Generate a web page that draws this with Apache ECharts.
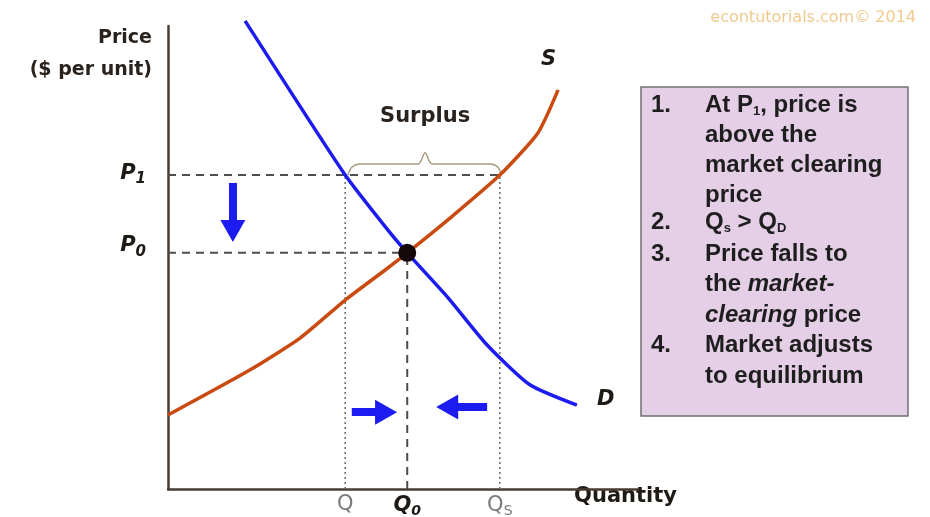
<!DOCTYPE html>
<html>
<head>
<meta charset="utf-8">
<script src="https://cdn.jsdelivr.net/npm/echarts@6/dist/echarts.min.js"></script>
<style>
  html, body { margin: 0; padding: 0; background: #fff; }
  #chart { width: 930px; height: 517px; }
</style>
</head>
<body>
<div id="chart"></div>
<script>
// axes run 0..100 in both directions
var demandQ = [16.4, 37.7, 46.8, 50.9, 59.6, 67.9, 77.0, 87.0];
var demandP = [101.1, 67.8, 55.9, 51.0, 41.3, 31.1, 22.5, 18.1];
var supplyQ = [0, 17.4, 28.1, 37.7, 46.2, 50.9, 60.0, 70.6, 78.7, 83.0];
var supplyP = [16.0, 25.7, 32.6, 40.8, 47.3, 51.0, 58.5, 67.8, 76.9, 86.2];

var priceNames = ['P1', 'P0'];
var priceValues = [67.8, 51.0];
var qtyNames = ['Q', 'Q0', 'Qs'];
var qtyValues = [37.7, 50.9, 70.6];

var braceQ = [38.3, 39.1, 40.9, 53.2, 54.7, 56.2, 68.5, 70.2, 70.9];
var braceP = [67.8, 69.5, 70.2, 70.2, 72.6, 70.2, 70.2, 69.5, 67.8];

var arrowFrom = [[13.8, 66.1], [39.1, 16.6], [67.9, 17.7]];
var arrowTo = [[13.8, 55.7], [46.4, 16.6], [59.4, 17.7]];

var boxNums = ['1.', '', '', '', '2.', '3.', '', '', '4.', ''];
var boxText = [
  'At P{sub|1}, price is',
  'above the',
  'market clearing',
  'price',
  'Q{sub|s} > Q{sub|D}',
  'Price falls to',
  'the {i|market-}',
  '{i|clearing} price',
  'Market adjusts',
  'to equilibrium'
];
var boxY = [105, 135, 165, 195, 222, 254, 284, 315, 345, 376];

var chart = echarts.init(document.getElementById('chart'));

function zip(a, b) {
  return a.map(function (v, i) { return [v, b[i]]; });
}

var labelFont = 'DejaVu Sans';
var boxFont = 'Liberation Sans';
var axisColor = '#4a3c32';

var boxGraphics = [{
  type: 'rect',
  shape: { x: 641, y: 87, width: 267, height: 329 },
  style: { fill: '#e4cfe7', stroke: '#707070', lineWidth: 1.5 }
}];
boxText.forEach(function (t, i) {
  if (boxNums[i]) {
    boxGraphics.push({
      type: 'text', x: 651, y: boxY[i],
      style: {
        text: boxNums[i], fontFamily: boxFont, fontSize: 24, fontWeight: 'bold',
        fill: '#1e1e1e', verticalAlign: 'middle'
      }
    });
  }
  boxGraphics.push({
    type: 'text', x: 705, y: boxY[i],
    style: {
      text: t,
      fontFamily: boxFont, fontSize: 24, fontWeight: 'bold',
      fill: '#1e1e1e',
      verticalAlign: 'middle',
      rich: {
        sub: { fontSize: 13, fontWeight: 'bold', fontFamily: boxFont, fill: '#1e1e1e', padding: [12, 0, 0, 0] },
        i: { fontSize: 24, fontWeight: 'bold', fontStyle: 'italic', fontFamily: boxFont, fill: '#1e1e1e' }
      }
    }
  });
});

var option = {
  animation: false,
  grid: { left: 168, right: 292, top: 26, bottom: 28 },
  xAxis: {
    type: 'value', min: 0, max: 100,
    axisLine: { show: true, lineStyle: { color: axisColor, width: 2.5 } },
    axisTick: { show: false }, axisLabel: { show: false }, splitLine: { show: false }
  },
  yAxis: {
    type: 'value', min: 0, max: 100,
    axisLine: { show: true, lineStyle: { color: axisColor, width: 2.5 } },
    axisTick: { show: false }, axisLabel: { show: false }, splitLine: { show: false }
  },
  graphic: [
    {
      type: 'text', x: 152, y: 38,
      style: { text: 'Price', fontFamily: labelFont, fontSize: 19, fontWeight: 'bold', fill: '#2a221c', align: 'right', verticalAlign: 'middle' }
    },
    {
      type: 'text', x: 152, y: 70,
      style: { text: '($ per unit)', fontFamily: labelFont, fontSize: 19, fontWeight: 'bold', fill: '#2a221c', align: 'right', verticalAlign: 'middle' }
    },
    {
      type: 'text', x: 916, y: 18,
      style: { text: 'econtutorials.com\u00a9 2014', fontFamily: labelFont, fontSize: 16, fill: '#f0c98e', align: 'right', verticalAlign: 'middle' }
    },
    {
      type: 'text', x: 677, y: 497,
      style: { text: 'Quantity', fontFamily: labelFont, fontSize: 21, fontWeight: 'bold', fill: '#1e1a16', align: 'right', verticalAlign: 'middle' }
    }
  ].concat(boxGraphics),
  series: [
    {
      name: 'P1 level', type: 'line', symbol: 'none', silent: true,
      data: [[0, priceValues[0]], [qtyValues[2], priceValues[0]]],
      lineStyle: { color: '#4d4d4d', width: 2, type: [8, 6] }
    },
    {
      name: 'P0 level', type: 'line', symbol: 'none', silent: true,
      data: [[0, priceValues[1]], [qtyValues[1], priceValues[1]]],
      lineStyle: { color: '#4d4d4d', width: 2, type: [8, 6] }
    },
    {
      name: 'Q line', type: 'line', symbol: 'none', silent: true,
      data: [[qtyValues[0], 0], [qtyValues[0], priceValues[0]]],
      lineStyle: { color: '#6a6a6a', width: 1.5, type: [2, 3] }
    },
    {
      name: 'Qs line', type: 'line', symbol: 'none', silent: true,
      data: [[qtyValues[2], 0], [qtyValues[2], priceValues[0]]],
      lineStyle: { color: '#6a6a6a', width: 1.5, type: [2, 3] }
    },
    {
      name: 'Q0 line', type: 'line', symbol: 'none', silent: true,
      data: [[qtyValues[1], 0], [qtyValues[1], priceValues[1]]],
      lineStyle: { color: '#4d4d4d', width: 2, type: [8, 6] }
    },
    {
      name: 'brace', type: 'line', symbol: 'none', silent: true, smooth: 0.3,
      data: zip(braceQ, braceP),
      lineStyle: { color: '#ab9d82', width: 1.5 }
    },
    {
      name: 'Supply', type: 'line', symbol: 'none', smooth: 0.2, clip: false,
      data: zip(supplyQ, supplyP),
      lineStyle: { color: '#c94b12', width: 3.5 },
      endLabel: {
        show: true, formatter: 'S', offset: [-25, -30],
        fontFamily: labelFont, fontSize: 21, fontWeight: 'bold', fontStyle: 'italic', color: '#1e1a16'
      }
    },
    {
      name: 'Demand', type: 'line', symbol: 'none', smooth: 0.2, clip: false,
      data: zip(demandQ, demandP),
      lineStyle: { color: '#1c1cf0', width: 3.5 },
      endLabel: {
        show: true, formatter: 'D', offset: [12, -6],
        fontFamily: labelFont, fontSize: 21, fontWeight: 'bold', fontStyle: 'italic', color: '#1e1a16'
      }
    },
    {
      name: 'arrows', type: 'line', data: [], silent: true,
      markLine: {
        silent: true, animation: false,
        symbol: ['none', 'triangle'], symbolSize: [25, 22],
        label: { show: false },
        lineStyle: { color: '#1c1cf0', width: 8, type: 'solid' },
        itemStyle: { color: '#1c1cf0' },
        data: arrowFrom.map(function (f, i) {
          return [{ coord: f }, { coord: arrowTo[i] }];
        })
      }
    },
    {
      name: 'equilibrium', type: 'scatter', silent: true, z: 10,
      data: [[qtyValues[1], priceValues[1]]],
      symbolSize: 18, itemStyle: { color: '#140808', opacity: 1 }
    },
    {
      name: 'price labels', type: 'scatter', silent: true, symbolSize: 0, clip: false,
      itemStyle: { opacity: 1 },
      data: [
        { value: [0, priceValues[0]], label: { offset: [0, -2] } },
        { value: [0, priceValues[1]], label: { offset: [0, -7] } }
      ],
      label: {
        show: true, position: 'left', distance: 22,
        formatter: function (p) {
          return '{p|P}{s|' + priceNames[p.dataIndex].slice(1) + '}';
        },
        rich: {
          p: { fontFamily: labelFont, fontSize: 21, fontWeight: 'bold', fontStyle: 'italic', color: '#1e1a16' },
          s: { fontFamily: labelFont, fontSize: 15, fontWeight: 'bold', fontStyle: 'italic', color: '#1e1a16', padding: [12, 0, 0, 0] }
        }
      }
    },
    {
      name: 'qty labels', type: 'scatter', silent: true, symbolSize: 0, clip: false,
      itemStyle: { opacity: 1 },
      data: qtyValues.map(function (v) { return [v, 0]; }),
      label: {
        show: true, position: 'bottom', distance: 5,
        formatter: function (p) {
          var n = qtyNames[p.dataIndex];
          if (n === 'Q') return '{g|Q}';
          if (n === 'Q0') return '{b|Q}{bs|0}';
          return '{g|Q}{gs|S}';
        },
        rich: {
          g: { fontFamily: labelFont, fontSize: 21, color: '#7a7a7a' },
          gs: { fontFamily: labelFont, fontSize: 14, color: '#7a7a7a', padding: [10, 0, 0, 0] },
          b: { fontFamily: labelFont, fontSize: 21, fontWeight: 'bold', fontStyle: 'italic', color: '#1e1a16' },
          bs: { fontFamily: labelFont, fontSize: 14, fontWeight: 'bold', fontStyle: 'italic', color: '#1e1a16', padding: [10, 0, 0, 0] }
        }
      }
    },
    {
      name: 'surplus label', type: 'scatter', silent: true, symbolSize: 0,
      itemStyle: { opacity: 1 },
      data: [[54.7, 72.6]],
      label: {
        show: true, position: 'top', distance: 26, formatter: 'Surplus',
        fontFamily: labelFont, fontSize: 21, fontWeight: 'bold', color: '#2a221c'
      }
    }
  ]
};

chart.setOption(option);
</script>
</body>
</html>
